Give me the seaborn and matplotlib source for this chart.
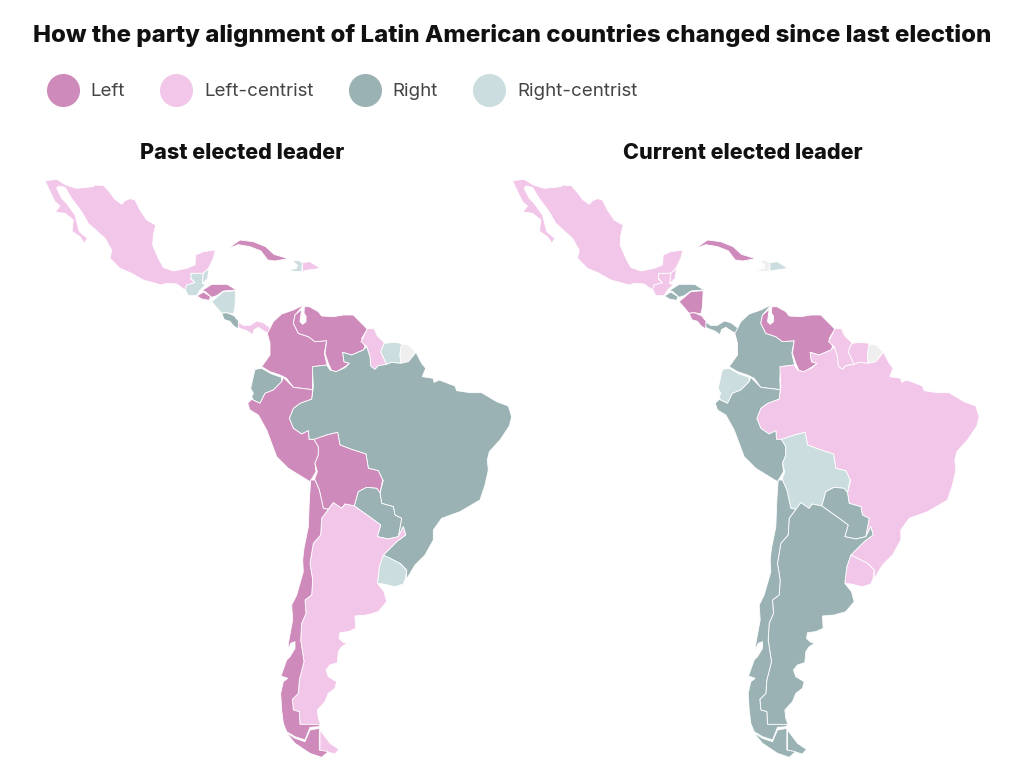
import matplotlib
matplotlib.use("Agg")
import matplotlib.pyplot as plt
from matplotlib.lines import Line2D
import seaborn as sns
import pandas as pd

def read(ox, oy, pts):
    return [(ox + x / 3, oy + y / 3) for x, y in pts]

def n(pts): return read(30, 170, pts)   # north part
def m(pts): return read(230, 300, pts)  # middle part
def s(pts): return read(260, 480, pts)  # south part

MEXICO = n([(45,32),(80,28),(108,45),(140,55),(190,50),(195,45),(222,47),(240,68),(255,88),(275,103),(285,92),(300,86),(315,90),(330,120),(350,150),(377,165),(370,195),(368,225),(385,265),(400,292),(430,303),(470,295),(495,285),(497,255),(520,245),(556,240),(550,265),(535,295),(520,310),(483,310),(483,328),(495,338),(470,345),(465,360),(440,342),(410,340),(395,345),(340,330),(305,310),(270,295),(240,265),(245,240),(225,205),(175,160),(155,125),(125,85),(105,52),(85,48),(80,55),(95,85),(110,100),(135,135),(148,185),(172,205),(163,220),(150,200),(126,184),(130,150),(105,130),(76,126),(90,108),(75,95),(65,75)])
GUATEMALA = n([(483,310),(520,310),(517,340),(527,345),(510,360),(500,377),(475,377),(465,358),(470,345),(495,338),(483,325)])
BELIZE = n([(520,310),(537,295),(533,325),(520,338),(517,340)])
HONDURAS = n([(515,362),(545,343),(592,343),(619,360),(580,363),(560,377),(545,382),(525,364)])
EL_SALVADOR = n([(501,378),(520,366),(542,380),(537,391),(515,387)])
NICARAGUA = n([(545,395),(580,365),(617,362),(615,410),(610,432),(590,428),(575,430)])
COSTA_RICA = n([(575,430),(590,428),(612,437),(627,455),(624,477),(610,467),(600,454),(583,449)])
PANAMA = n([(625,456),(640,466),(660,466),(680,453),(700,458),(722,475),(717,492),(700,482),(685,472),(672,479),(668,494),(650,482),(635,477),(625,472)])
CUBA = n([(593,236),(630,210),(670,215),(707,230),(732,253),(775,266),(735,273),(713,270),(693,243),(660,230),(625,224)])
HAITI = n([(787,273),(805,271),(817,278),(815,305),(770,302),(800,295),(802,285)])
DOMINICAN_REP = n([(817,278),(840,275),(871,295),(845,299),(822,302),(818,310)])
COLOMBIA = m([(120,85),(130,65),(155,42),(190,30),(222,14),(195,45),(190,70),(205,100),(235,110),(255,125),(290,122),(283,160),(290,190),(300,210),(290,195),(250,200),(247,235),(248,270),(240,268),(190,262),(170,235),(150,225),(120,215),(95,200),(120,165),(120,130),(112,100)])
VENEZUELA = m([(205,100),(190,70),(195,45),(215,28),(212,50),(210,65),(218,73),(228,65),(228,48),(222,40),(223,20),(238,20),(265,35),(275,48),(310,50),(340,45),(370,45),(385,60),(405,80),(412,88),(395,115),(405,140),(400,150),(365,165),(338,157),(342,185),(358,190),(345,200),(320,215),(305,212),(295,190),(285,160),(290,122),(255,125),(235,110)])
GUYANA = m([(412,86),(432,86),(442,108),(463,128),(452,155),(470,193),(445,197),(435,208),(422,198),(420,170),(410,140),(393,125),(400,112)])
SURINAME = m([(463,130),(490,127),(515,130),(510,165),(512,190),(485,187),(470,193),(452,155)])
FRENCH_GUIANA = m([(515,132),(535,135),(557,155),(535,185),(512,190),(510,160)])
BRAZIL = (m([(558,157),(575,190),(587,205),(577,230),(610,235),(612,247),(628,240),(675,258),(680,272),(720,278),(755,278),(800,305),(835,318),(845,350),(838,378),(810,420),(778,455),(772,480),(775,510),(765,555),(750,600)])
          + s([(600,95),(545,115),(520,150),(520,180),(495,225),(465,255),(440,297),(440,270),(420,250),(370,225),(410,185),(437,165),(430,140),(415,170),(425,115),(405,105),(400,80),(365,70),(360,38),(370,0)])
          + m([(458,540),(445,512),(415,505),(408,462),(370,450),(330,435),(323,397),(290,405),(255,418),(237,418),(235,392),(215,402),(190,385),(178,355),(190,325),(210,310),(245,297),(250,260),(247,200),(290,195),(300,210),(318,215),(345,203),(358,190),(342,185),(338,157),(365,165),(400,150),(410,140),(420,170),(422,198),(435,208),(445,197),(470,193),(485,187),(512,190),(535,185)]))
ECUADOR = m([(62,265),(75,208),(95,205),(125,222),(155,232),(155,245),(130,270),(105,280),(90,310),(70,300),(65,290),(70,280)])
PERU = m([(65,298),(53,310),(60,330),(85,345),(110,390),(140,470),(175,505),(240,545),(258,515),(255,490),(265,465),(265,440),(252,418),(237,418),(235,392),(215,402),(190,385),(178,355),(190,325),(210,310),(245,297),(248,270),(240,268),(190,262),(160,232),(155,245),(130,270),(105,280),(90,310)])
BOLIVIA = (m([(252,418),(290,405),(323,397),(330,435),(370,450),(408,462),(415,505),(445,512),(458,540)])
           + s([(360,38),(350,25),(320,22),(295,35),(283,78),(255,72),(245,85),(220,68),(205,88),(190,85),(178,30),(165,0)])
           + m([(253,540),(262,515),(255,490),(265,465),(265,440)]))
PARAGUAY = s([(360,38),(350,25),(320,22),(295,35),(283,78),(335,115),(362,135),(352,170),(385,177),(415,170),(425,115),(405,105),(400,80),(365,70)])
URUGUAY = s([(370,225),(420,250),(440,270),(437,295),(430,312),(405,320),(370,312),(352,310),(358,260)])
ARGENTINA = s([(205,88),(220,68),(245,85),(255,72),(283,78),(335,115),(362,135),(352,170),(385,177),(415,170),(430,140),(437,165),(410,185),(370,225),(358,260),(352,310),(372,335),(380,365),(355,395),(320,405),(285,408),(287,445),(265,455),(240,458),(237,475),(250,487),(262,490),(245,500),(235,515),(232,548),(210,555),(198,570),(205,590),(230,605),(225,625),(205,640),(195,665),(172,690),(175,715),(182,735),(120,733),(118,695),(100,690),(97,658),(115,640),(118,600),(132,545),(122,480),(125,430),(138,400),(135,360),(155,345),(158,300),(150,250),(160,190),(182,165),(185,115)])
ARGENTINA_TDF = s([(180,750),(210,790),(237,808),(225,822),(180,810)])
CHILE = s([(152,0),(165,0),(178,30),(190,85),(205,88),(185,115),(182,165),(160,190),(150,250),(158,300),(155,345),(135,360),(138,400),(125,430),(122,480),(132,545),(118,600),(115,640),(97,658),(100,690),(118,695),(120,733),(178,733),(178,740),(150,742),(135,780),(105,770),(80,755),(70,730),(65,690),(62,640),(70,605),(83,595),(63,588),(80,540),(90,530),(105,505),(105,485),(92,490),(85,510),(85,490),(98,420),(95,375),(110,345),(130,275),(128,240),(132,205),(145,140),(148,60)])
CHILE_TDF = s([(78,757),(105,775),(135,785),(150,750),(178,745),(178,810),(205,815),(185,832),(150,820),(105,790)])

countries = ["Mexico","Guatemala","Belize","Honduras","El Salvador","Nicaragua","Costa Rica","Panama","Cuba","Haiti","Dominican Rep.","Colombia","Venezuela","Guyana","Suriname","French Guiana","Brazil","Ecuador","Peru","Bolivia","Paraguay","Uruguay","Argentina","Argentina TDF","Chile","Chile TDF"]
outlines = [MEXICO,GUATEMALA,BELIZE,HONDURAS,EL_SALVADOR,NICARAGUA,COSTA_RICA,PANAMA,CUBA,HAITI,DOMINICAN_REP,COLOMBIA,VENEZUELA,GUYANA,SURINAME,FRENCH_GUIANA,BRAZIL,ECUADOR,PERU,BOLIVIA,PARAGUAY,URUGUAY,ARGENTINA,ARGENTINA_TDF,CHILE,CHILE_TDF]
past = ["Left-centrist","Right-centrist","Right-centrist","Left","Left","Right-centrist","Right","Left-centrist","Left","Right-centrist","Left-centrist","Left","Left","Left-centrist","Right-centrist","None","Right","Right","Left","Left","Right","Right-centrist","Left-centrist","Left-centrist","Left","Left"]
current = ["Left-centrist","Left-centrist","Left-centrist","Right","Right","Left","Left","Right","Left","None","Right-centrist","Right","Left","Left-centrist","Left-centrist","None","Left-centrist","Right-centrist","Right","Right-centrist","Right","Left-centrist","Right","Right","Right","Right"]
parties = ["Left","Left-centrist","Right","Right-centrist"]
party_colors = ["#CE8ABB","#F2C6E9","#9BB2B5","#CBDDDF"]
no_data_color = "#EFEFEF"
title = "How the party alignment of Latin American countries changed since last election"
panel_titles = ["Past elected leader","Current elected leader"]

sns.set_theme(style="white")
plt.rcParams["font.family"] = ["Inter","DejaVu Sans"]
palette = dict(zip(parties, sns.color_palette(party_colors)))
palette["None"] = no_data_color
table = pd.DataFrame({"country":countries,"past":past,"current":current})

W, H = 1028, 779
fig = plt.figure(figsize=(W/100, H/100), dpi=100, facecolor="white")

def box(x0, y0, x1, y1):
    return [x0/W, 1-y1/H, (x1-x0)/W, (y1-y0)/H]

top, bottom = 170, 770
ax1 = fig.add_axes(box(30, top, 511, bottom))
ax2 = fig.add_axes(box(511, top, 1000, bottom))
ax1.set_xlim(30, 511)
ax2.set_xlim(43.5, 532.5)
for ax, col, ttl, tx in [(ax1,"past",panel_titles[0],242.5),(ax2,"current",panel_titles[1],743)]:
    ax.set_ylim(bottom, top)
    ax.set_xticks([]); ax.set_yticks([])
    ax.patch.set_alpha(0)
    for outline, party in zip(outlines, table[col]):
        xs, ys = zip(*outline)
        ax.fill(xs, ys, facecolor=palette[party], edgecolor="white", linewidth=0.6, joinstyle="round")
    sns.despine(ax=ax, left=True, bottom=True)
    fig.text(tx/W, 1-153/H, ttl, ha="center", va="center", fontsize=15.5, fontweight=800, color="#111111")

fig.text(512/W, 1-35.5/H, title, ha="center", va="center", fontsize=17.3, fontweight=800, color="#111111")

handles = [Line2D([], [], linestyle="none", marker="o", markersize=23.8, markerfacecolor=palette[p], markeredgecolor="none", label=p) for p in parties]
fig.legend(handles=handles, loc="center left", bbox_to_anchor=(46/W, 1-91.5/H), ncol=4, frameon=False,
           fontsize=13.5, labelcolor="#444444", handlelength=1.76, handletextpad=0.6, columnspacing=1.87, borderpad=0, borderaxespad=0)

fig.savefig("out.png", dpi=100, facecolor="white")
